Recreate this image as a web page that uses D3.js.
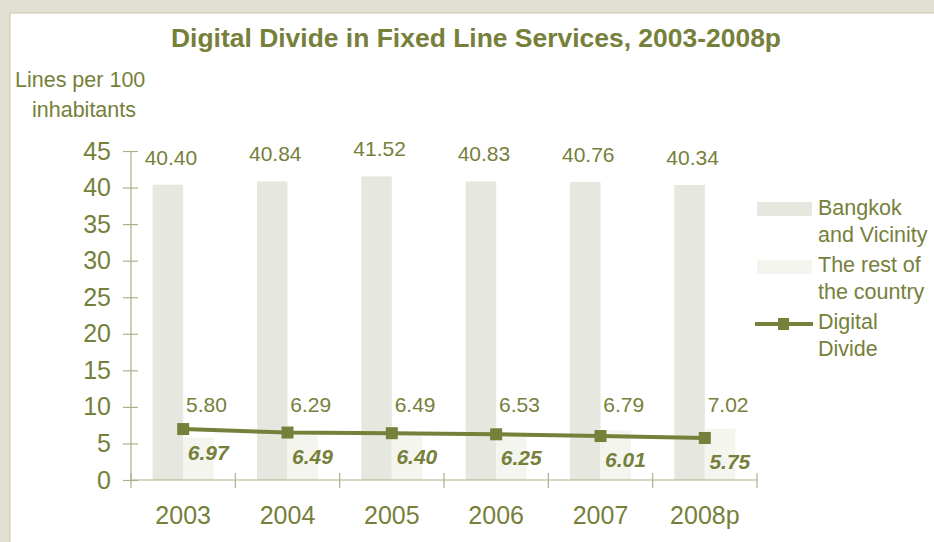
<!DOCTYPE html>
<html>
<head>
<meta charset="utf-8">
<script src="https://cdn.jsdelivr.net/npm/d3@7"></script>
<style>
  html, body { margin: 0; padding: 0; background: #e1e0d0; }
  svg { display: block; font-family: "Liberation Sans", Arial, sans-serif; }
</style>
</head>
<body>
<svg id="chart" width="934" height="542"></svg>
<script>
// ---- data ----
const years = ["2003", "2004", "2005", "2006", "2007", "2008p"];
const bangkok = [40.40, 40.84, 41.52, 40.83, 40.76, 40.34];
const restOfCountry = [5.80, 6.29, 6.49, 6.53, 6.79, 7.02];
const digitalDivide = [6.97, 6.49, 6.40, 6.25, 6.01, 5.75];
const yTicks = [0, 5, 10, 15, 20, 25, 30, 35, 40, 45];
const seriesNames = ["Bangkok and Vicinity", "The rest of the country", "Digital Divide"];

// ---- styles ----
const olive = "#76803b";
const axisCol = "#aeb08a";
const colBangkok = "#e6e7df";
const colRest = "#f5f5f0";

const svg = d3.select("#chart");

// white panel
svg.append("rect").attr("x", 10).attr("y", 13).attr("width", 940).attr("height", 540)
  .attr("fill", "#ffffff").attr("stroke", "#cdcdb2").attr("stroke-width", 1.2);

// title
svg.append("text").attr("x", 476).attr("y", 47).attr("text-anchor", "middle")
  .attr("fill", olive).attr("font-weight", "bold").attr("font-size", 25)
  .attr("textLength", 610).attr("lengthAdjust", "spacingAndGlyphs")
  .text("Digital Divide in Fixed Line Services, 2003-2008p");

// axis title
svg.append("text").attr("x", 15).attr("y", 87).attr("fill", olive).attr("font-size", 21.5)
  .text("Lines per 100");
svg.append("text").attr("x", 32).attr("y", 117).attr("fill", olive).attr("font-size", 21.5)
  .text("inhabitants");

// scales
const x = d3.scaleBand().domain(years).range([131, 757]).padding(0);
const sub = d3.scaleBand().domain(["bkk", "rest"]).range([0, x.bandwidth()])
  .paddingInner(0).paddingOuter(0.71);
const y = d3.scaleLinear().domain([0, 45]).range([480, 151]);

// bars
const g = svg.append("g");
g.selectAll("rect.bkk").data(years).join("rect").attr("class", "bkk")
  .attr("x", d => x(d) + sub("bkk")).attr("width", sub.bandwidth())
  .attr("y", (d, i) => y(bangkok[i])).attr("height", (d, i) => y(0) - y(bangkok[i]))
  .attr("fill", colBangkok);
g.selectAll("rect.rest").data(years).join("rect").attr("class", "rest")
  .attr("x", d => x(d) + sub("rest")).attr("width", sub.bandwidth())
  .attr("y", (d, i) => y(restOfCountry[i])).attr("height", (d, i) => y(0) - y(restOfCountry[i]))
  .attr("fill", colRest);

// y axis
const yAxis = svg.append("g").attr("transform", "translate(131,0)")
  .call(d3.axisLeft(y).tickValues(yTicks).tickSize(7).tickPadding(13));
yAxis.selectAll(".tick line").attr("x1", 7).attr("x2", -8);
yAxis.select(".domain").attr("d", `M0,${y(45)}V${y(0)}`);
yAxis.selectAll("path, line").attr("stroke", axisCol).attr("stroke-width", 1.2);
yAxis.selectAll("text").attr("fill", olive).attr("font-size", 25)
  .attr("font-family", "Liberation Sans, Arial, sans-serif");

// x axis
const xAxis = svg.append("g").attr("transform", `translate(0,${y(0)})`)
  .call(d3.axisBottom(x).tickSize(0).tickPadding(26));
xAxis.select(".domain").attr("d", `M131,0H757`);
xAxis.selectAll("path").attr("stroke", axisCol).attr("stroke-width", 1.2);
xAxis.selectAll("text").attr("fill", olive).attr("font-size", 25)
  .attr("font-family", "Liberation Sans, Arial, sans-serif");
// category boundary ticks
const bounds = years.map(d => x(d)).concat([x(years[years.length - 1]) + x.bandwidth()]);
xAxis.selectAll("line.bt").data(bounds).join("line").attr("class", "bt")
  .attr("x1", d => d).attr("x2", d => d).attr("y1", -7).attr("y2", 8)
  .attr("stroke", axisCol).attr("stroke-width", 1.2);

// line series
const cx = d => x(d) + x.bandwidth() / 2;
const line = d3.line().x((d, i) => cx(years[i])).y(d => y(d));
svg.append("path").datum(digitalDivide).attr("d", line)
  .attr("fill", "none").attr("stroke", olive).attr("stroke-width", 4);
svg.selectAll("rect.mk").data(digitalDivide).join("rect").attr("class", "mk")
  .attr("x", (d, i) => cx(years[i]) - 6).attr("y", d => y(d) - 6)
  .attr("width", 12).attr("height", 12).attr("fill", olive);

// data labels
svg.selectAll("text.lb").data(bangkok).join("text").attr("class", "lb")
  .attr("x", (d, i) => x(years[i]) + sub("bkk") + sub.bandwidth() / 2 + 3)
  .attr("y", d => y(d) - 20)
  .attr("text-anchor", "middle").attr("fill", olive).attr("font-size", 21)
  .text(d => d.toFixed(2));
svg.selectAll("text.lr").data(restOfCountry).join("text").attr("class", "lr")
  .attr("x", (d, i) => x(years[i]) + sub("rest") + sub.bandwidth() / 2 + 8)
  .attr("y", d => y(10.3) + 7)
  .attr("text-anchor", "middle").attr("fill", olive).attr("font-size", 21)
  .text(d => d.toFixed(2));
svg.selectAll("text.ld").data(digitalDivide).join("text").attr("class", "ld")
  .attr("x", (d, i) => cx(years[i]) + 25)
  .attr("y", d => y(d) + 31)
  .attr("text-anchor", "middle").attr("fill", olive).attr("font-size", 21)
  .attr("font-weight", "bold").attr("font-style", "italic")
  .text(d => d.toFixed(2));

// legend
const lg = svg.append("g");
lg.append("rect").attr("x", 757).attr("y", 202).attr("width", 55).attr("height", 14).attr("fill", colBangkok);
lg.append("rect").attr("x", 757).attr("y", 260).attr("width", 55).attr("height", 14).attr("fill", colRest);
lg.append("line").attr("x1", 755).attr("x2", 813).attr("y1", 324).attr("y2", 324)
  .attr("stroke", olive).attr("stroke-width", 4);
lg.append("rect").attr("x", 778).attr("y", 318).attr("width", 11).attr("height", 12).attr("fill", olive);
const legendLines = [["Bangkok", 215], ["and Vicinity", 242], ["The rest of", 272],
  ["the country", 299], ["Digital", 329], ["Divide", 356]];
lg.selectAll("text").data(legendLines).join("text")
  .attr("x", 818).attr("y", d => d[1]).attr("fill", olive).attr("font-size", 21.5)
  .text(d => d[0]);
</script>
</body>
</html>
